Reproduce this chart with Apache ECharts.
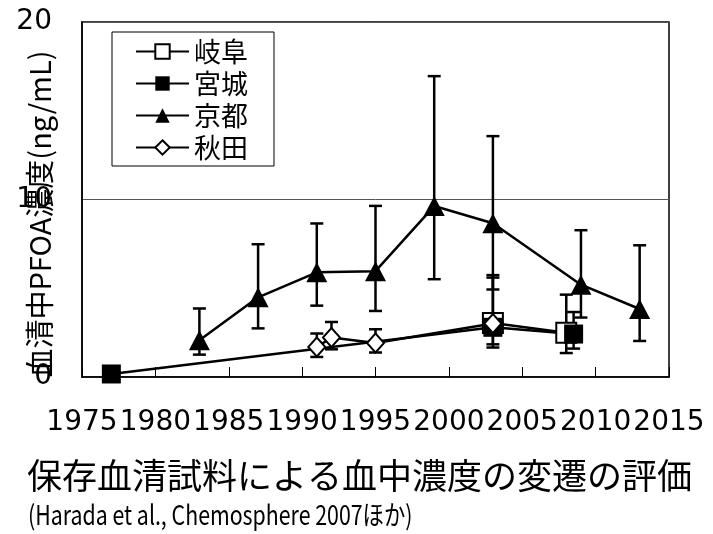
<!DOCTYPE html>
<html>
<head>
<meta charset="utf-8">
<script src="https://cdn.jsdelivr.net/npm/echarts@6/dist/echarts.min.js"></script>
<style>
html,body{margin:0;padding:0;background:#fff;}
#c{width:713px;height:534px;}
</style>
</head>
<body>
<div id="c"></div>
<script>
// ---- data ----
const xTicks = [1975, 1980, 1985, 1990, 1995, 2000, 2005, 2010, 2015];
const yTicks = [0, 10, 20];

const seriesNames = ['岐阜', '宮城', '京都', '秋田'];

const gifuYears = [2003, 2008];
const gifuMean  = [3.04, 2.49];
const gifuHigh  = [5.74, 4.64];
const gifuLow   = [1.84, 1.35];

const miyagiYears = [1977, 2003, 2008.5];
const miyagiMean  = [0.17, 2.80, 2.42];
const miyagiHigh  = [null, null, 3.66];
const miyagiLow   = [null, null, 1.60];

const kyotoYears = [1983, 1987, 1991, 1995, 1999, 2003, 2009, 2013];
const kyotoMean  = [2.07, 4.49, 5.90, 5.96, 9.63, 8.66, 5.20, 3.83];
const kyotoHigh  = [3.86, 7.48, 8.65, 9.64, 16.95, 13.57, 8.27, 7.42];
const kyotoLow   = [1.26, 2.74, 4.02, 3.72, 5.51, 4.93, 3.35, 2.03];

const akitaYears = [1991, 1992, 1995, 2003];
const akitaMean  = [1.69, 2.22, 1.92, 3.01];
const akitaHigh  = [2.45, 3.10, 2.69, 5.60];
const akitaLow   = [1.13, 1.56, 1.38, 1.66];

const yAxisTitle = '血清中PFOA濃度(ng/mL)';
const mainTitle = '保存血清試料による血中濃度の変遷の評価';
const subTitle = '(Harada et al., Chemosphere 2007ほか)';

// ---- build ----
const FONT = '"Noto Sans CJK JP", "Noto Sans", sans-serif';
const NUMFONT = '"DejaVu Sans", sans-serif';

function pts(xs, ys) { return xs.map((x, i) => [x, ys[i]]); }
function errPts(xs, lo, hi) {
  const out = [];
  xs.forEach((x, i) => { if (lo[i] != null && hi[i] != null) out.push([x, lo[i], hi[i]]); });
  return out;
}
function renderErr(params, api) {
  const x = api.value(0), lo = api.value(1), hi = api.value(2);
  const a = api.coord([x, lo]), b = api.coord([x, hi]);
  const hw = 6.5;
  const st = { stroke: '#000', lineWidth: 2.5 };
  return {
    type: 'group',
    children: [
      { type: 'line', shape: { x1: a[0], y1: a[1], x2: b[0], y2: b[1] }, style: st },
      { type: 'line', shape: { x1: a[0] - hw, y1: a[1], x2: a[0] + hw, y2: a[1] }, style: st },
      { type: 'line', shape: { x1: b[0] - hw, y1: b[1], x2: b[0] + hw, y2: b[1] }, style: st }
    ]
  };
}
function errSeries(name, xs, lo, hi) {
  return {
    type: 'custom', name: name + '_err', z: 1, silent: true,
    renderItem: renderErr,
    encode: { x: 0, y: [1, 2] },
    data: errPts(xs, lo, hi)
  };
}
function lineSeries(name, xs, ys, symbol, size, fill) {
  return {
    type: 'line', name: name, z: 2,
    data: pts(xs, ys),
    symbol: symbol, symbolSize: size,
    showAllSymbol: true,
    lineStyle: { color: '#000', width: 2.5 },
    itemStyle: { color: fill, borderColor: '#000', borderWidth: fill === '#000' ? 0 : 2, opacity: 1 },
    emphasis: { disabled: true },
    animation: false
  };
}

const chart = echarts.init(document.getElementById('c'), null, { renderer: 'canvas' });
chart.setOption({
  animation: false,
  backgroundColor: '#fff',
  textStyle: { fontFamily: FONT },
  title: [
    { text: mainTitle, left: 27, top: 458, padding: 0,
      textStyle: { fontFamily: FONT, fontSize: 35, fontWeight: 'normal', color: '#000' } }
  ],
  legend: {
    data: seriesNames,
    orient: 'vertical',
    left: 112, top: 32,
    padding: [6, 26, 5, 23],
    backgroundColor: '#fff',
    borderColor: '#000', borderWidth: 1,
    itemWidth: 53, itemHeight: 18, itemGap: 5,
    textStyle: { fontFamily: FONT, fontSize: 27, lineHeight: 27, color: '#000' }
  },
  grid: {
    left: 82, right: 44, top: 22, bottom: 157,
    show: true, borderColor: '#000', borderWidth: 1.5, backgroundColor: 'transparent'
  },
  xAxis: {
    type: 'value', min: xTicks[0], max: xTicks[xTicks.length - 1], interval: 5,
    axisLine: { show: true, lineStyle: { color: '#000', width: 1.5 } },
    axisTick: { show: true, inside: true, length: 10, lineStyle: { color: '#000', width: 1 } },
    splitLine: { show: false },
    axisLabel: { color: '#000', fontFamily: NUMFONT, fontSize: 28, margin: 32,
      formatter: v => String(v) }
  },
  yAxis: {
    type: 'value', min: yTicks[0], max: yTicks[yTicks.length - 1], interval: 10,
    axisLine: { show: true, lineStyle: { color: '#000', width: 1.5 } },
    axisTick: { show: false },
    splitLine: { show: true, lineStyle: { color: '#555', width: 1 } },
    axisLabel: { color: '#000', fontFamily: NUMFONT, fontSize: 28, margin: 30,
      formatter: v => String(v) }
  },
  graphic: [{
    type: 'text', x: 40, y: 214, rotation: Math.PI / 2, z: 100,
    style: { text: yAxisTitle, font: '29px ' + FONT, fill: '#000', textAlign: 'center', textVerticalAlign: 'middle' }
  }, {
    type: 'text', x: 28, y: 515, scaleX: 0.79, z: 100,
    style: { text: subTitle, font: '27px ' + FONT, fill: '#000', textAlign: 'left', textVerticalAlign: 'middle' }
  }],
  series: [
    errSeries('京都', kyotoYears, kyotoLow, kyotoHigh),
    errSeries('宮城', miyagiYears, miyagiLow, miyagiHigh),
    errSeries('岐阜', gifuYears, gifuLow, gifuHigh),
    errSeries('秋田', akitaYears, akitaLow, akitaHigh),
    lineSeries('岐阜', gifuYears, gifuMean, 'rect', 20, '#fff'),
    lineSeries('宮城', miyagiYears, miyagiMean, 'rect', 19, '#000'),
    lineSeries('京都', kyotoYears, kyotoMean, 'triangle', [21, 20], '#000'),
    lineSeries('秋田', akitaYears, akitaMean, 'diamond', [17, 19], '#fff')
  ]
});
</script>
</body>
</html>
